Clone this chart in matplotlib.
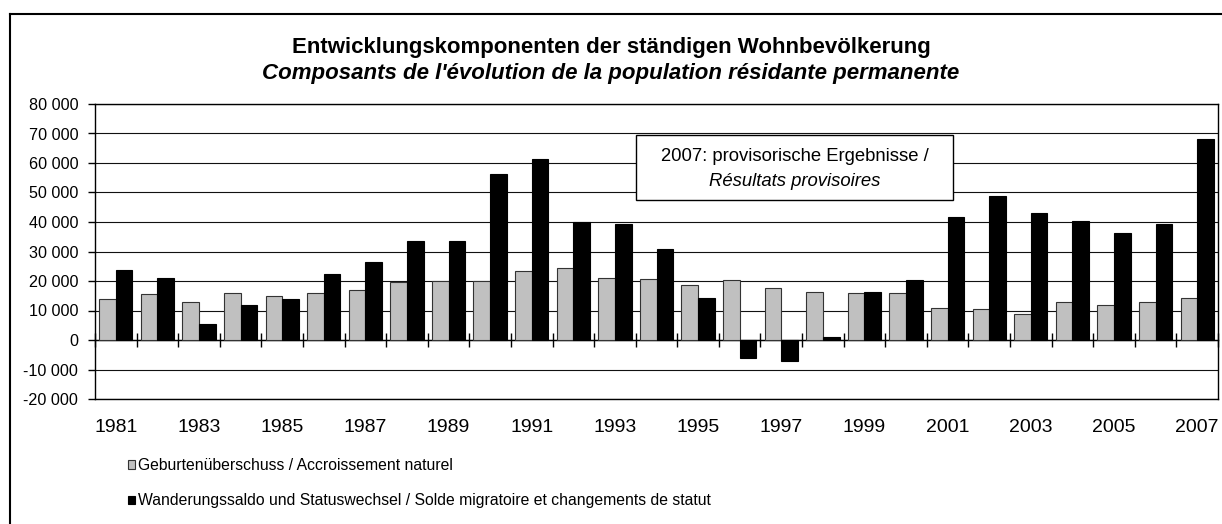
import matplotlib
matplotlib.use('Agg')
import matplotlib.pyplot as plt
import numpy as np
from matplotlib.ticker import FuncFormatter
from matplotlib.patches import Rectangle
from matplotlib.lines import Line2D
from matplotlib.transforms import blended_transform_factory

plt.rcParams['font.family'] = ['Liberation Sans', 'DejaVu Sans']

years = list(range(1981, 2008))
natural = [13900, 15600, 12900, 16100, 14900, 16100, 16900, 19600, 20100, 20000,
           23400, 24400, 21000, 20800, 18800, 20300, 17500, 16400, 15800, 15800,
           11000, 10600, 8800, 12900, 11700, 13000, 14200]
migration = [23600, 21000, 5300, 11900, 13800, 22400, 26300, 33400, 33500, 56400,
             61200, 40000, 39400, 30700, 14400, -6000, -7000, 1100, 16200, 20200,
             41800, 48900, 42900, 40300, 36200, 39400, 68300]
label_natural = "Geburtenüberschuss / Accroissement naturel"
label_migration = "Wanderungssaldo und Statuswechsel / Solde migratoire et changements de statut"
title_de = "Entwicklungskomponenten der ständigen Wohnbevölkerung"
title_fr = "Composants de l'évolution de la population résidante permanente"
note_de = "2007: provisorische Ergebnisse /"
note_fr = "Résultats provisoires"

W, H = 1222, 524
fig = plt.figure(figsize=(W / 100, H / 100), dpi=100)


def fx(px):
    return px / W


def fy(py):
    return 1 - py / H


ax = fig.add_axes([fx(95), fy(399), fx(1218) - fx(95), fy(104) - fy(399)])
x = np.arange(len(years))
ax.bar(x - 0.2, natural, 0.4, color='#c0c0c0', edgecolor='#333333', linewidth=0.8,
       zorder=3, label=label_natural)
ax.bar(x + 0.2, migration, 0.4, color='black', edgecolor='black', linewidth=0.8,
       zorder=3, label=label_migration)
ax.set_xlim(-0.5, len(years) - 0.5)
ax.set_ylim(-20000, 80000)
ax.set_yticks(range(-20000, 80001, 10000))
ax.yaxis.set_major_formatter(FuncFormatter(lambda v, p: f"{int(v):,}".replace(',', ' ')))
ax.grid(axis='y', color='#111111', linewidth=0.8, zorder=0)
ax.set_axisbelow(True)

for s in ax.spines.values():
    s.set_color('black')
    s.set_linewidth(1.0)
ax.spines['bottom'].set_position(('data', 0))
# bottom frame line of the plot area at the lower y limit
ax.plot([0, 1], [0, 0], transform=ax.transAxes, color='black', linewidth=1.0,
        clip_on=False, zorder=2)
ax.set_xticks(np.arange(-0.5, len(years), 1.0))
ax.set_xticklabels([])
ax.tick_params(axis='x', direction='inout', length=10, width=1, color='black')
ax.tick_params(axis='y', direction='out', length=5, width=1, pad=7, labelsize=11.6)

trans = blended_transform_factory(ax.transData, fig.transFigure)
for i, yr in enumerate(years):
    if yr % 2 == 1:
        ax.text(i, fy(432), str(yr), ha='center', va='baseline', fontsize=14,
                transform=trans, clip_on=False)

fig.text(0.5, fy(53), title_de, ha='center', va='baseline', fontsize=16,
         fontweight='bold')
fig.text(0.5, fy(79), title_fr, ha='center', va='baseline', fontsize=16,
         fontweight='bold', style='italic')

ax.add_patch(Rectangle((fx(636), fy(200)), fx(953) - fx(636), fy(135) - fy(200),
                       transform=fig.transFigure, facecolor='white',
                       edgecolor='black', linewidth=1, zorder=4, clip_on=False))
cx = fx((636 + 953) / 2)
ax.text(cx, fy(161), note_de, ha='center', va='baseline', fontsize=13.3,
        transform=fig.transFigure, zorder=5)
ax.text(cx, fy(186), note_fr, ha='center', va='baseline', fontsize=13.3,
        style='italic', transform=fig.transFigure, zorder=5)

fig.legend(loc='upper left', bbox_to_anchor=(fx(128), fy(458)), frameon=False,
           prop={'size': 11.3}, handlelength=0.45,
           handleheight=0.45, handletextpad=0.2, labelspacing=1.3,
           borderpad=0, borderaxespad=0)

fig.add_artist(Line2D([fx(10), 1.01], [fy(14), fy(14)], transform=fig.transFigure,
                      color='black', linewidth=1.5))
fig.add_artist(Line2D([fx(10), fx(10)], [fy(14), -0.01], transform=fig.transFigure,
                      color='black', linewidth=1.5))

fig.savefig('out.png', dpi=100)
